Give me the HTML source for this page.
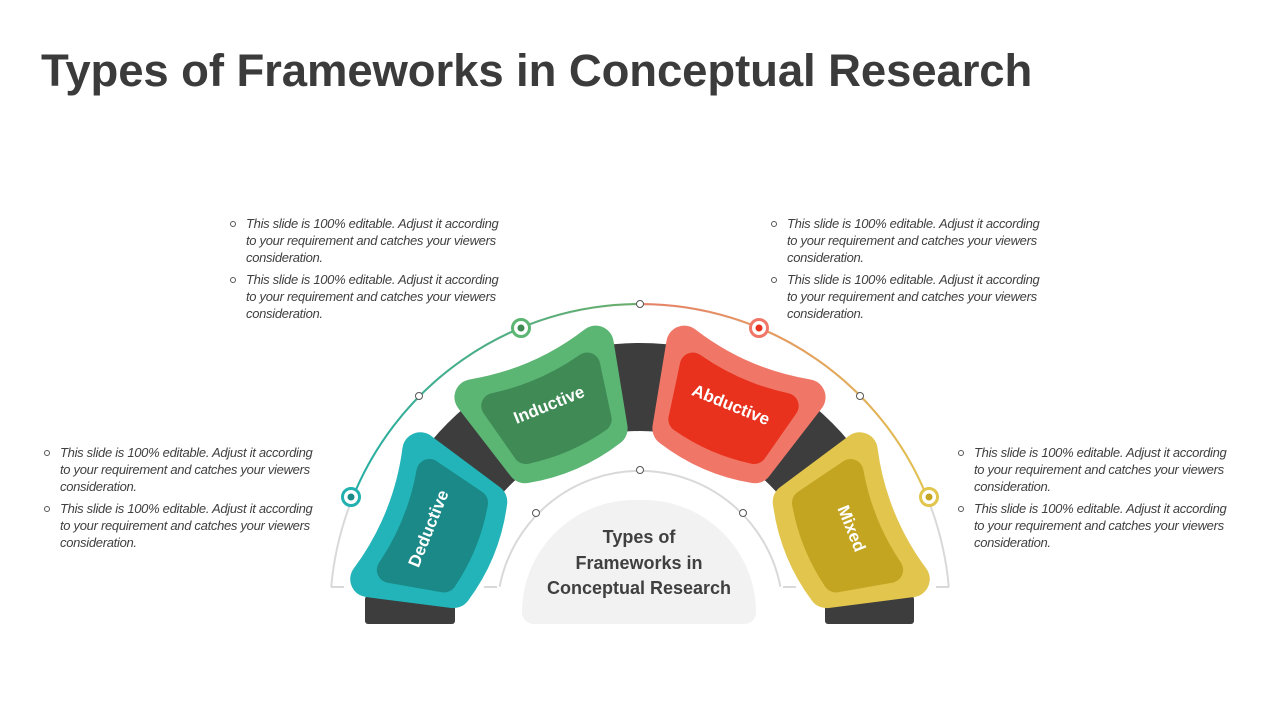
<!DOCTYPE html>
<html><head><meta charset="utf-8"><style>
body{margin:0;width:1280px;height:720px;background:#fff;overflow:hidden;position:relative;font-family:"Liberation Sans",sans-serif}
h1{position:absolute;left:41px;top:45px;margin:0;font-size:45.5px;font-weight:bold;color:#3b3b3b;letter-spacing:-0.1px}
.t{position:absolute;font-size:13px;font-style:italic;color:#404040;line-height:17px;white-space:nowrap;letter-spacing:-0.3px}
.t p{margin:0 0 5px 0;position:relative;padding-left:16px}
.t p:before{content:"";position:absolute;left:0;top:6px;width:4px;height:4px;border:1px solid #555;border-radius:50%}
.dome{position:absolute;left:522px;top:500px;width:234px;height:124px;background:#f2f2f2;border-radius:117px 117px 12px 12px}
.dt{position:absolute;left:522px;top:525px;width:234px;text-align:center;font-size:18px;font-weight:bold;color:#404040;line-height:25.5px}
</style></head><body>
<h1>Types of Frameworks in Conceptual Research</h1>
<div class="t" style="left:230px;top:215px"><p>This slide is 100% editable. Adjust it according<br>to your requirement and catches your viewers<br>consideration.</p><p>This slide is 100% editable. Adjust it according<br>to your requirement and catches your viewers<br>consideration.</p></div>
<div class="t" style="left:771px;top:215px"><p>This slide is 100% editable. Adjust it according<br>to your requirement and catches your viewers<br>consideration.</p><p>This slide is 100% editable. Adjust it according<br>to your requirement and catches your viewers<br>consideration.</p></div>
<div class="t" style="left:44px;top:444px"><p>This slide is 100% editable. Adjust it according<br>to your requirement and catches your viewers<br>consideration.</p><p>This slide is 100% editable. Adjust it according<br>to your requirement and catches your viewers<br>consideration.</p></div>
<div class="t" style="left:958px;top:444px"><p>This slide is 100% editable. Adjust it according<br>to your requirement and catches your viewers<br>consideration.</p><p>This slide is 100% editable. Adjust it according<br>to your requirement and catches your viewers<br>consideration.</p></div>
<div class="dome"></div>
<div class="dt">Types of<br>Frameworks in<br>Conceptual Research</div>
<svg id="s" width="1280" height="720" style="position:absolute;left:0;top:0">
<defs>
<linearGradient id="gl" x1="351" y1="497" x2="640" y2="304" gradientUnits="userSpaceOnUse"><stop offset="0" stop-color="#22b0a8"/><stop offset="1" stop-color="#6aae6a"/></linearGradient>
<linearGradient id="gr" x1="640" y1="304" x2="929" y2="497" gradientUnits="userSpaceOnUse"><stop offset="0" stop-color="#e88068"/><stop offset="1" stop-color="#e2c54d"/></linearGradient>
</defs>
<g id="g"></g>
</svg>
<script>
var cx=640,cy=614,g=document.getElementById('g'),h='';
function P(a,r){var t=a*Math.PI/180;return [cx+r*Math.cos(t),cy-r*Math.sin(t)];}
function arc(a1,a2,r){var p=P(a1,r),q=P(a2,r);return 'M'+p[0].toFixed(1)+' '+p[1].toFixed(1)+' A'+r+' '+r+' 0 0 '+(a1<a2?0:1)+' '+q[0].toFixed(1)+' '+q[1].toFixed(1);}
function sec(a1,a2,r1,r2){var p=P(a1,r2),q=P(a2,r2),s=P(a2,r1),u=P(a1,r1);
return 'M'+p+' A'+r2+' '+r2+' 0 0 0 '+q+' L'+s+' A'+r1+' '+r1+' 0 0 1 '+u+' Z';}
h+='<path d="'+arc(175,5,310)+'" fill="none" stroke="#d9d9d9" stroke-width="2"/>';
h+='<path d="M331 587 L344 587 M949 587 L936 587" stroke="#d9d9d9" stroke-width="2"/>';
h+='<path d="'+arc(159.5,90,310)+'" fill="none" stroke="url(#gl)" stroke-width="2"/>';
h+='<path d="'+arc(90,20.5,310)+'" fill="none" stroke="url(#gr)" stroke-width="2"/>';
h+='<path d="'+arc(169,11,143)+'" fill="none" stroke="#d9d9d9" stroke-width="2"/>';
h+='<path d="M497 587 L484 587 M783 587 L796 587" stroke="#d9d9d9" stroke-width="2"/>';
h+='<path d="'+sec(5,175,183,271)+'" fill="#3d3d3d"/>';
h+='<rect x="365" y="596" width="90" height="28" rx="3" fill="#3d3d3d"/><rect x="825" y="596" width="89" height="28" rx="3" fill="#3d3d3d"/>';
var segs=[[177,139,'#22b4b8','#1a8987','Deductive',-68],[132,95,'#5bb573','#3f8a55','Inductive',-22],[85,48,'#f07767','#e8321e','Abductive',22],[41,3,'#e2c54d','#c4a522','Mixed',68]];
segs.forEach(function(s){
 var a1=s[0]-4.3,a2=s[1]+4.3;
 h+='<path d="'+sec(a1,a2,188,274)+'" fill="'+s[2]+'" stroke="'+s[2]+'" stroke-width="36" stroke-linejoin="round"/>';
 h+='<path d="'+sec(s[0]-7,s[1]+7,199,254)+'" fill="'+s[3]+'" stroke="'+s[3]+'" stroke-width="26" stroke-linejoin="round"/>';
 var m=(s[0]+s[1])/2,c=P(m,228);
 h+='<text x="'+c[0]+'" y="'+c[1]+'" transform="rotate('+s[5]+' '+c[0]+' '+c[1]+')" text-anchor="middle" dominant-baseline="central" font-family="Liberation Sans" font-weight="bold" font-size="17" fill="#fff">'+s[4]+'</text>';
});
[[640,304],[419,396],[860,396],[640,470],[536,513],[743,513]].forEach(function(d){h+='<circle cx="'+d[0]+'" cy="'+d[1]+'" r="3.5" fill="#fff" stroke="#555" stroke-width="1"/>';});
[[351,497,'#22b0b0','#1a8a88'],[521,328,'#5bb573','#3f8a55'],[759,328,'#f07767','#e8321e'],[929,497,'#e2c54d','#c4a522']].forEach(function(d){
 h+='<circle cx="'+d[0]+'" cy="'+d[1]+'" r="8.5" fill="#fff" stroke="'+d[2]+'" stroke-width="3"/><circle cx="'+d[0]+'" cy="'+d[1]+'" r="3.5" fill="'+d[3]+'"/>';});
g.innerHTML=h;
</script>
</body></html>
